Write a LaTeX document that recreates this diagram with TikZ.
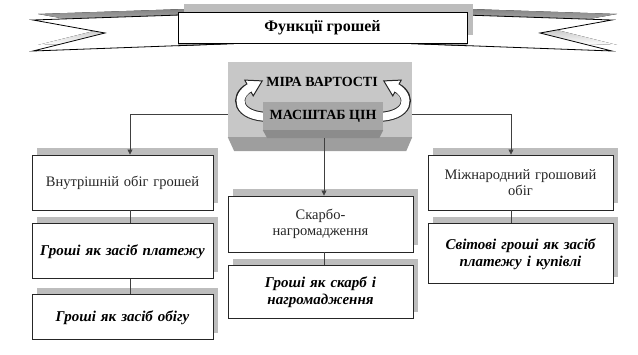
\documentclass[tikz,border=0pt]{standalone}
\usepackage{fontspec}
\setmainfont{Liberation Serif}
\usepackage{tikz}
\usetikzlibrary{arrows.meta,positioning,shadows}
\definecolor{shade}{gray}{0.74}
\tikzset{
  cellbox/.style={draw=black!85,line width=0.9pt,fill=white,align=center,
    minimum width=181pt,text width=177pt,inner sep=2pt,
    drop shadow={shadow xshift=5pt,shadow yshift=7pt,fill=shade,opacity=1}},
  plaintext/.style={font=\rmfamily\fontsize{14.5}{16.5}\selectfont,text=black!85},
  strongtext/.style={font=\rmfamily\fontsize{15}{17}\selectfont\bfseries\itshape},
  capstext/.style={font=\rmfamily\fontsize{14}{16}\selectfont\bfseries},
  link/.style={draw=black!75,line width=0.8pt},
  linkarrow/.style={link,-{Triangle[length=5pt,width=5pt]}},
  turnarrow/.pic={
    \draw[line width=10pt,black!85] (7,0) .. controls (-27,0) and (-29,-21) .. (-14,-29);
    \filldraw[fill=white,draw=black!85,line width=1pt] (-9.8,-21.1) -- (-0.8,-36.1) -- (-18.2,-36.9) -- cycle;
    \draw[line width=8pt,white,shorten >=-2pt] (7,0) .. controls (-27,0) and (-29,-21) .. (-14,-29);
  }
}

\begin{document}
\begin{tikzpicture}[x=1pt,y=-1pt]
  \useasboundingbox (0,0) rectangle (638,355);
  % ribbon behind the title
  \fill[shade] (215,8) -- (38,14) -- (110,27) -- (38,45) -- (255,37) -- cycle;
  \fill[shade] (440,8) -- (617,14) -- (545,27) -- (617,45) -- (400,37) -- cycle;
  \draw[fill=white,line width=0.8pt] (210,14) -- (33,20) -- (105,33) -- (33,51) -- (250,43) -- cycle;
  \draw[fill=white,line width=0.8pt] (435,14) -- (612,20) -- (540,33) -- (612,51) -- (395,43) -- cycle;
  \fill[shade] (178,43) -- (250,43) -- (178,45.7) -- cycle;
  \fill[shade] (467,43) -- (395,43) -- (467,45.7) -- cycle;
  \draw[line width=0.8pt] (250,43) -- (178,45.7);
  \draw[line width=0.8pt] (395,43) -- (467,45.7);
  \node[draw,line width=0.8pt,fill=white,minimum width=289pt,minimum height=31pt,
    font=\rmfamily\fontsize{16}{18}\selectfont\bfseries,
    drop shadow={shadow xshift=6pt,shadow yshift=8pt,fill=shade,opacity=1}]
    (title) at (322.5,27.5) {Функції грошей};

  % central block
  \node[fill=black!22,minimum width=184pt,minimum height=75pt,inner sep=0pt] (mb) at (320,99.5) {};
  \fill[black!38] (mb.south west) -- (mb.south east) -- ++(-6,14) -- ++(-172,0) -- cycle;
  \pic at (263,117) {turnarrow};
  \pic[xscale=-1] at (383,117) {turnarrow};
  \node[capstext,fill=black!35,minimum width=120pt,minimum height=28pt,inner sep=0pt] (masht) at (323,116) {МАСШТАБ ЦІН};
  \fill[black!45] (masht.south west) -- (masht.south east) -- ++(-4,8) -- ++(-112,0) -- cycle;
  \node[capstext] (mira) at (322,82) {МІРА ВАРТОСТІ};

  % columns
  \node[cellbox,plaintext,minimum height=55pt] (inner) at (122.5,182.5) {Внутрішній обіг грошей};
  \node[cellbox,strongtext,minimum height=55pt,below=13pt of inner] (pay) {Гроші як засіб платежу};
  \node[cellbox,strongtext,minimum height=45pt,below=15pt of pay] (circ) {Гроші як засіб обігу};

  \node[cellbox,plaintext,minimum width=185pt,minimum height=56pt] (hoard) at (320.5,224) {Скарбо-\\нагромадження};
  \node[cellbox,strongtext,minimum width=185pt,minimum height=53pt,below=13pt of hoard] (treasure) {Гроші як скарб і\\нагромадження};

  \node[cellbox,plaintext,minimum width=185pt,minimum height=55pt] (world) at (520.5,182.5) {Міжнародний грошовий\\обіг};
  \node[cellbox,strongtext,minimum width=185pt,minimum height=60pt,below=13pt of world] (worldmoney) {Світові гроші як засіб\\платежу і купівлі};

  % connectors
  \draw[linkarrow] ([yshift=-14.5pt]mb.west) -| ([xshift=7.5pt]inner.north);
  \draw[linkarrow] ([yshift=-14.5pt]mb.east) -| ([xshift=-9.5pt]world.north);
  \draw[linkarrow] ([xshift=1pt,yshift=-8pt]masht.south) -- ([xshift=3.5pt]hoard.north);
  \draw[link] ([xshift=7.5pt]inner.south) -- ([xshift=7.5pt]pay.north);
  \draw[link] ([xshift=7.5pt]pay.south) -- ([xshift=7.5pt]circ.north);
  \draw[link] ([xshift=3.5pt]hoard.south) -- ([xshift=3.5pt]treasure.north);
  \draw[link] ([xshift=-9.5pt]world.south) -- ([xshift=-9.5pt]worldmoney.north);
\end{tikzpicture}
\end{document}
